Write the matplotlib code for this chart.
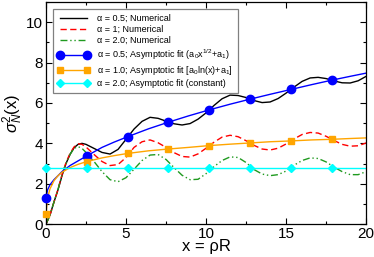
import matplotlib
matplotlib.use("Agg")
import matplotlib.pyplot as plt
import numpy as np
from matplotlib.lines import Line2D
from matplotlib.ticker import MultipleLocator

plt.rcParams["font.family"] = ["Liberation Sans", "DejaVu Sans"]
plt.rcParams["mathtext.fontset"] = "custom"
plt.rcParams["mathtext.rm"] = "Liberation Sans"
plt.rcParams["mathtext.it"] = "Liberation Sans:italic"

# numerical curves (x = rho R)
x_num = [0, 0.25, 0.5, 0.75, 1.0, 1.25, 1.5, 1.75, 2.0, 2.25, 2.5,
         3.0, 3.5, 4.0, 4.5, 5.0, 5.5, 6.0, 6.5, 7.0, 7.5, 8.0, 8.5, 9.0,
         9.5, 10.0, 10.5, 11.0, 11.5, 12.0, 12.5, 13.0, 13.5, 14.0, 14.5,
         15.0, 15.5, 16.0, 16.5, 17.0, 17.5, 18.0, 18.5, 19.0, 19.5, 20.0]
num_05 = [0, 0.45, 1.1, 1.7, 2.4, 3.0, 3.45, 3.78, 3.95, 4.0, 3.95,
          3.75, 3.55, 3.47, 3.7, 4.2, 4.71, 5.09, 5.29, 5.24, 5.1, 4.97,
          4.91, 4.98, 5.2, 5.51, 5.88, 6.21, 6.39, 6.37, 6.27, 6.12, 6.02,
          6.05, 6.22, 6.49, 6.79, 7.07, 7.24, 7.27, 7.21, 7.09, 7.0, 6.99,
          7.1, 7.32]
num_10 = [0, 0.45, 1.1, 1.72, 2.45, 3.05, 3.5, 3.82, 3.98, 3.95, 3.82,
          3.45, 3.1, 2.9, 2.95, 3.3, 3.8, 4.08, 4.17, 4.03, 3.8, 3.54,
          3.35, 3.32, 3.48, 3.76, 4.06, 4.31, 4.4, 4.33, 4.13, 3.9, 3.72,
          3.67, 3.76, 3.97, 4.22, 4.44, 4.54, 4.51, 4.35, 4.14, 3.95, 3.86,
          3.88, 4.02]
num_20 = [0, 0.45, 1.1, 1.72, 2.45, 3.0, 3.45, 3.75, 3.84, 3.75, 3.55,
          3.1, 2.6, 2.2, 2.1, 2.3, 2.72, 3.15, 3.42, 3.45, 3.2, 2.8,
          2.42, 2.2, 2.22, 2.5, 2.85, 3.15, 3.33, 3.3, 3.05, 2.7, 2.48,
          2.4, 2.45, 2.63, 2.92, 3.15, 3.28, 3.25, 3.08, 2.82, 2.6, 2.45,
          2.45, 2.6]

# asymptotic fits
x_fit = [0, 0.1, 0.25, 0.5, 0.75, 1.0, 1.5, 2.0, 2.55, 3.5, 4.25, 5.1,
         6.4, 7.65, 8.9, 10.2, 11.5, 12.75, 14.0, 15.3, 16.6, 17.85, 19.0, 20.0]
fit_05 = [1.3, 1.7, 1.95, 2.2, 2.4, 2.6, 2.9, 3.13, 3.38, 3.8, 4.06, 4.33,
          4.72, 5.05, 5.36, 5.66, 5.94, 6.19, 6.43, 6.67, 6.91, 7.13, 7.32, 7.48]
fit_10 = [0.5, 1.3, 1.75, 2.15, 2.4, 2.57, 2.8, 2.96, 3.1, 3.28, 3.39, 3.5,
          3.63, 3.72, 3.8, 3.89, 3.96, 4.02, 4.08, 4.12, 4.17, 4.2, 4.24, 4.27]
fit_20 = [2.8] * len(x_fit)
x_mark = [0, 2.55, 5.1, 7.65, 10.2, 12.75, 15.3, 17.85]

labels = [
    "α = 0.5; Numerical",
    "α = 1; Numerical",
    "α = 2.0; Numerical",
    r"α = 0.5; Asymptotic fit (a$_0$x$^{1/2}$+a$_1$)",
    r"α = 1.0; Asymptotic fit [a$_0$ln(x)+a$_1$]",
    "α = 2.0; Asymptotic fit (constant)",
]

fig = plt.figure(figsize=(3.74, 2.57), dpi=100)
ax = fig.add_axes([0.123, 0.128, 0.856, 0.864])

green = "#1f9a1f"
ax.plot(x_num, num_05, color="black", lw=1.0)
ax.plot(x_num, num_10, color="red", lw=1.0, ls=(0, (4.5, 2.5)))
ax.plot(x_num, num_20, color=green, lw=1.0, ls=(0, (5, 2, 1, 2, 1, 2)))

marks = np.isin(x_fit, x_mark)
fits = [
    (fit_05, "#0000ff", "o", 6),
    (fit_10, "#ffa500", "s", 5),
    (fit_20, "#00ffff", "D", 4),
]
handles = [
    Line2D([], [], color="black", lw=1.0),
    Line2D([], [], color="red", lw=1.0, ls=(0, (4.5, 2.5))),
    Line2D([], [], color=green, lw=1.0, ls=(0, (5, 2, 1, 2, 1, 2))),
]
for y, c, m, ms in fits:
    y = np.asarray(y)
    ax.plot(x_fit, y, color=c, lw=1.0)
    ax.plot(np.asarray(x_fit)[marks], y[marks], ls="none", marker=m,
            ms=ms, color=c, clip_on=False, zorder=3)
    handles.append(Line2D([], [], color=c, lw=1.0, marker=m, ms=ms))

ax.set_xlim(0, 20)
ax.set_ylim(0, 11)
ax.xaxis.set_major_locator(MultipleLocator(5))
ax.xaxis.set_minor_locator(MultipleLocator(2.5))
ax.yaxis.set_major_locator(MultipleLocator(2))
ax.yaxis.set_minor_locator(MultipleLocator(1))
ax.tick_params(which="both", direction="in", top=True, right=True,
               labelsize=11, width=0.8, pad=2)
ax.tick_params(which="major", length=4)
ax.tick_params(which="minor", length=2.5)
for s in ax.spines.values():
    s.set_linewidth(0.9)

ax.set_xlabel("x = ρR", fontsize=12, labelpad=-1)
ax.set_ylabel(r"$\sigma_N^2$(x)", fontsize=12, labelpad=1)

leg = ax.legend(handles, labels, loc="upper left",
                bbox_to_anchor=(0.022, 0.968), borderaxespad=0,
                fontsize=6.5, numpoints=2, handlelength=3.6,
                handletextpad=0.8, labelspacing=0.25, borderpad=0.5,
                fancybox=False, framealpha=1, edgecolor="#808080")
leg.get_frame().set_linewidth(0.9)

fig.savefig("out.png", dpi=100)
